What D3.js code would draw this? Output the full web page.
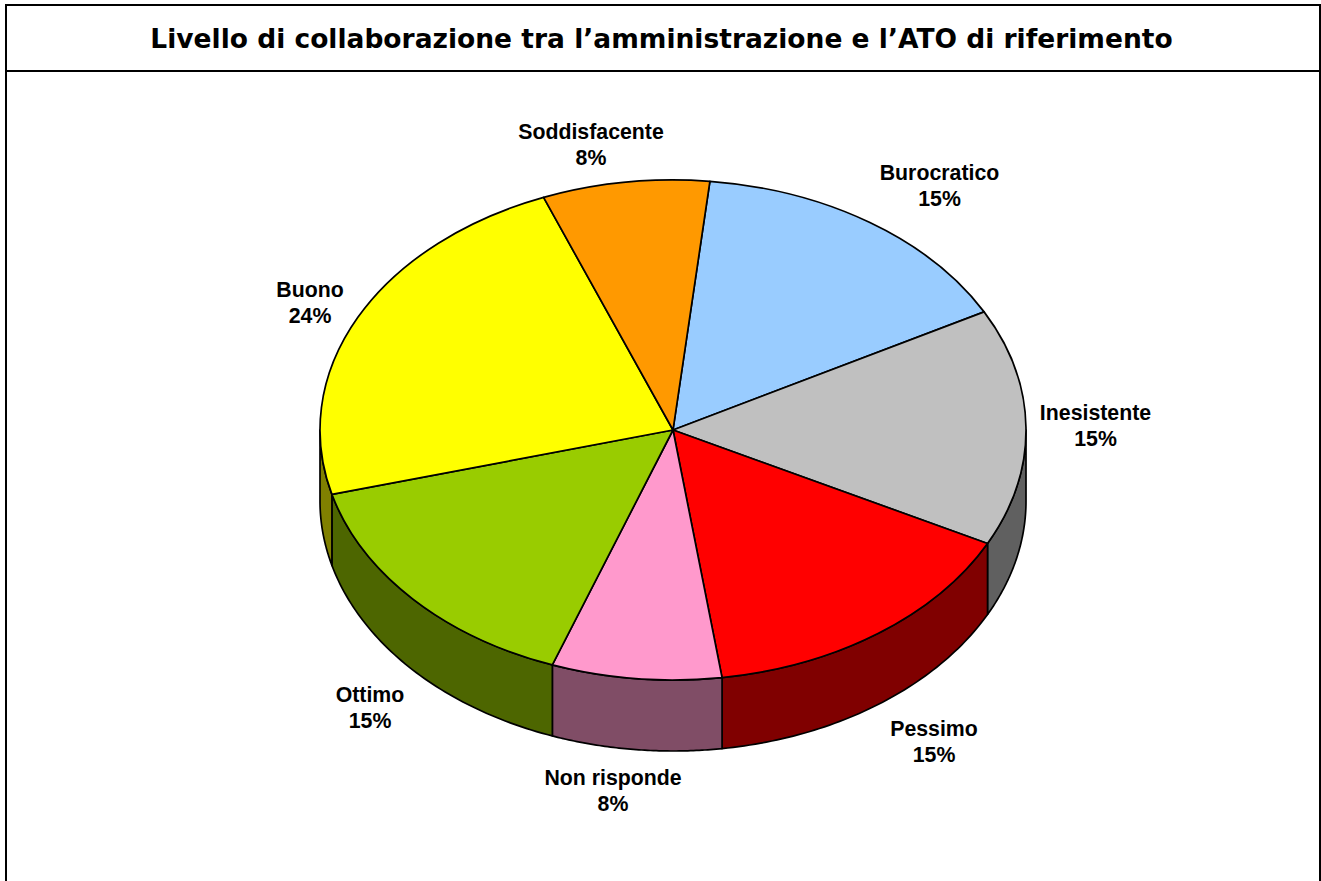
<!DOCTYPE html>
<html>
<head>
<meta charset="utf-8">
<script src="https://cdn.jsdelivr.net/npm/d3@7"></script>
<style>
  html, body { margin: 0; padding: 0; background: #fff; }
  svg { display: block; }
</style>
</head>
<body>
<div id="my_chart"></div>
<script>
var title = "Livello di collaborazione tra l’amministrazione e l’ATO di riferimento";

// slices clockwise, starting from the top (Burocratico)
var categories = ["Burocratico", "Inesistente", "Pessimo", "Non risponde", "Ottimo", "Buono", "Soddisfacente"];
var values = [15.5, 15.33, 15.28, 7.77, 15.3, 23.17, 7.64];
var percent_labels = ["15%", "15%", "15%", "8%", "15%", "24%", "8%"];
var top_colors = ["#99CCFF", "#C0C0C0", "#FF0000", "#FF99CC", "#99CC00", "#FFFF00", "#FF9900"];
var side_colors = ["#4D6680", "#606060", "#800000", "#804D66", "#4D6600", "#808000", "#804D00"];

// label centres, by category
var label_x = [939.5, 1095.5, 934, 613, 370, 310, 591];
var label_y = [172, 412, 728, 777, 694, 289, 131];

var width = 1321, height = 881;
var cx = 673, cy = 430, rx = 353, ry = 250, depth = 71;
var start_angle = 6 * Math.PI / 180;

var svg = d3.select("#my_chart")
  .append("svg")
  .attr("width", width)
  .attr("height", height);

// frame, open at the bottom
svg.append("path")
  .attr("d", "M6,881V5H1320V881M6,71H1320")
  .attr("fill", "none")
  .attr("stroke", "#000")
  .attr("stroke-width", 2);

svg.append("text")
  .attr("x", 661.5)
  .attr("y", 48)
  .attr("text-anchor", "middle")
  .style("font-family", "'DejaVu Sans', Verdana, sans-serif")
  .style("font-weight", "bold")
  .style("font-size", "26.5px")
  .text(title);

var pie = d3.pie()
  .sort(null)
  .startAngle(start_angle)
  .endAngle(start_angle + 2 * Math.PI);
var slices = pie(values);

// angle measured clockwise from the top -> point on the ellipse
function ex(a) { return cx + rx * Math.sin(a); }
function ey(a) { return cy - ry * Math.cos(a); }

var rim = d3.line().x(function(d) { return d[0]; }).y(function(d) { return d[1]; });

// side wall of a slice, only the part facing the viewer (90deg to 270deg)
function wall(d) {
  var a0 = Math.max(d.startAngle, Math.PI / 2);
  var a1 = Math.min(d.endAngle, 3 * Math.PI / 2);
  if (a1 <= a0) return null;
  var steps = d3.range(0, 61).map(function(i) { return a0 + (a1 - a0) * i / 60; });
  var upper = steps.map(function(a) { return [ex(a), ey(a)]; });
  var lower = steps.slice().reverse().map(function(a) { return [ex(a), ey(a) + depth]; });
  return rim(upper.concat(lower)) + "Z";
}

svg.append("g").selectAll("path")
  .data(slices)
  .enter()
  .append("path")
  .attr("d", wall)
  .attr("fill", function(d, i) { return side_colors[i]; })
  .attr("stroke", "#000")
  .attr("stroke-width", 1.7)
  .attr("stroke-linejoin", "round");

// top of the pie: a circle pie squashed to an ellipse
var arc = d3.arc().innerRadius(0).outerRadius(rx);

svg.append("g")
  .attr("transform", "translate(" + cx + "," + cy + ") scale(1," + (ry / rx) + ")")
  .selectAll("path")
  .data(slices)
  .enter()
  .append("path")
  .attr("d", arc)
  .attr("fill", function(d, i) { return top_colors[i]; })
  .attr("stroke", "#000")
  .attr("stroke-width", 1.7)
  .attr("stroke-linejoin", "round")
  .attr("vector-effect", "non-scaling-stroke");

// labels
var labels = svg.append("g").selectAll("text")
  .data(categories)
  .enter()
  .append("text")
  .attr("text-anchor", "middle")
  .style("font-family", "'Liberation Sans', Arial, sans-serif")
  .style("font-weight", "bold")
  .style("font-size", "21.3px")
  .attr("fill", "#000");

labels.append("tspan")
  .attr("x", function(d, i) { return label_x[i]; })
  .attr("y", function(d, i) { return label_y[i] + 8; })
  .text(function(d) { return d; });

labels.append("tspan")
  .attr("x", function(d, i) { return label_x[i]; })
  .attr("y", function(d, i) { return label_y[i] + 34; })
  .text(function(d, i) { return percent_labels[i]; });
</script>
</body>
</html>
